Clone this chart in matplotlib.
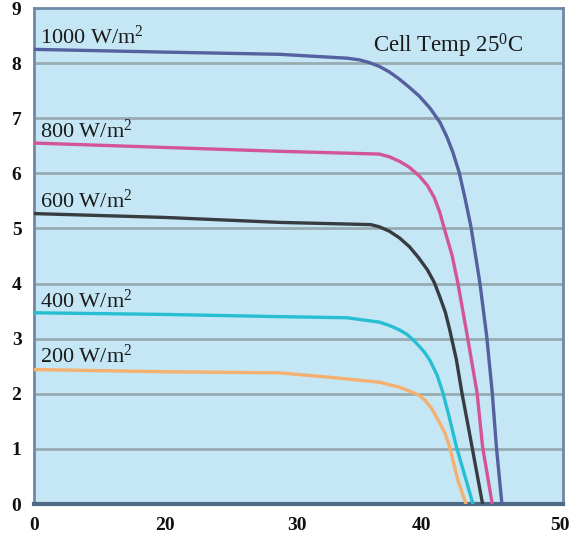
import numpy as np
import matplotlib
matplotlib.use("Agg")
import matplotlib.pyplot as plt

plt.rcParams["font.family"] = ["Liberation Serif", "DejaVu Serif"]
plt.rcParams["mathtext.fontset"] = "custom"
plt.rcParams["mathtext.rm"] = "Liberation Serif"
plt.rcParams["mathtext.it"] = "Liberation Serif:italic"

# I-V curves of the module at 25 C, voltage (V) vs current (A)
v_1000 = [0, 20, 28.7, 34.0, 35.0, 35.8, 36.6, 37.4, 38.2, 39.0, 39.8, 40.6, 41.3, 41.8,
          42.25, 42.7, 43.1, 43.55, 44.2, 44.7, 45.1, 45.4, 45.8]
i_1000 = [8.25, 8.20, 8.16, 8.09, 8.06, 8.01, 7.94, 7.84, 7.71, 7.56, 7.40, 7.18, 6.93, 6.67,
          6.38, 6.02, 5.58, 5.04, 4.02, 3.04, 2.02, 1.04, 0]

v_800 = [0, 20, 28.7, 36.6, 37.4, 38.2, 39.0, 39.8, 40.4, 40.9, 41.3, 41.6, 42.2, 42.6, 43.3, 44.0, 44.4, 45.1]
i_800 = [6.55, 6.47, 6.40, 6.35, 6.30, 6.22, 6.11, 5.95, 5.78, 5.56, 5.29, 5.02, 4.50, 4.02, 3.04, 2.02, 1.04, 0]

v_600 = [0, 20, 28.7, 35.9, 36.6, 37.4, 38.2, 39.0, 39.7, 40.4, 40.9, 41.3, 41.7, 42.0, 42.5, 42.9, 43.5, 44.4]
i_600 = [5.27, 5.20, 5.11, 5.07, 5.03, 4.95, 4.83, 4.67, 4.48, 4.25, 4.02, 3.76, 3.48, 3.18, 2.62, 2.02, 1.22, 0]

v_400 = [0, 20, 28.7, 34.0, 36.6, 37.4, 38.2, 38.8, 39.3, 39.8, 40.2, 40.6, 41.1, 41.5, 42.0, 42.5, 43.2, 43.7]
i_400 = [3.47, 3.44, 3.40, 3.38, 3.30, 3.24, 3.16, 3.08, 2.98, 2.86, 2.75, 2.60, 2.34, 2.04, 1.56, 1.04, 0.44, 0]

v_200 = [0, 20, 28.7, 32.6, 36.6, 38.2, 39.0, 39.8, 40.2, 40.6, 40.9, 41.3, 41.7, 42.0, 42.6, 43.2]
i_200 = [2.44, 2.40, 2.38, 2.30, 2.21, 2.12, 2.05, 1.97, 1.89, 1.77, 1.65, 1.47, 1.27, 1.04, 0.44, 0]

curve_labels = ["1000 W/m$^2$", "800 W/m$^2$", "600 W/m$^2$", "400 W/m$^2$", "200 W/m$^2$"]
label_currents = [8.35, 6.65, 5.38, 3.56, 2.56]
curve_colors = ["#55609f", "#d25596", "#373c41", "#28bed2", "#f5af6e"]

x_ticks = [0, 20, 30, 40, 50]
y_ticks = list(range(10))

# voltage axis is stretched unevenly between the labelled ticks
v_knots = [-10, 0, 20, 30, 40, 50, 60]
p_knots = [-65.5, 0, 131, 263, 388, 526, 664]


def forward(v):
    return np.interp(v, v_knots, p_knots)


def inverse(p):
    return np.interp(p, p_knots, v_knots)


fig = plt.figure(figsize=(5.72, 5.46), dpi=100)
ax = fig.add_axes([0.0594, 0.0769, 0.9246, 0.9084])
ax.set_xscale("function", functions=(forward, inverse))
ax.set_facecolor("#c5e6f5")

for y in range(1, 9):
    ax.axhline(y, color="#98abb1", lw=2.0, zorder=1)

series = [(v_1000, i_1000), (v_800, i_800), (v_600, i_600), (v_400, i_400), (v_200, i_200)]
for (v, i), color, label, ly in zip(series, curve_colors, curve_labels, label_currents):
    ax.plot(v, i, color=color, lw=2.4, solid_joinstyle="round", zorder=3)
    ax.text(0.9, ly, label, fontsize=16, color="#1a1a1a", va="baseline", ha="left", zorder=4)

ax.text(36.1, 8.2, "Cell Temp 25$^0$C", fontsize=16.5, color="#1a1a1a", va="baseline", ha="left")

ax.set_xlim(0, inverse(529))
ax.set_ylim(0, 9)
ax.set_xticks(x_ticks)
ax.set_yticks(y_ticks)
ax.set_xticklabels([str(t) for t in x_ticks], fontsize=14, fontweight="bold")
ax.set_yticklabels([str(t) for t in y_ticks], fontsize=14, fontweight="bold")
ax.tick_params(axis="both", length=0, colors="#111111")
ax.tick_params(axis="x", pad=9)
ax.tick_params(axis="y", pad=9)

for side in ["left", "right", "top"]:
    ax.spines[side].set_color("#7088a8")
    ax.spines[side].set_linewidth(2.0)
ax.spines["bottom"].set_color("#4d6a85")
ax.spines["bottom"].set_linewidth(3.0)

fig.savefig("out.png", dpi=100, facecolor="white")
